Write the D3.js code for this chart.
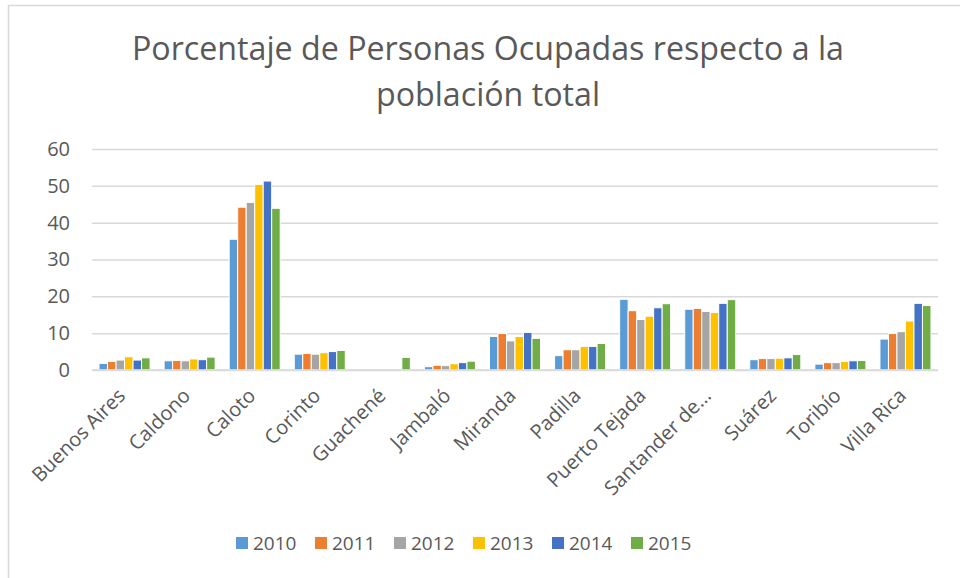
<!DOCTYPE html>
<html>
<head>
<meta charset="utf-8">
<script src="https://cdn.jsdelivr.net/npm/d3@7"></script>
<style>
  body { margin: 0; background: #fff; }
  svg { display: block; font-family: "Open Sans", sans-serif; }
</style>
</head>
<body>
<div id="chart"></div>
<script>
const municipios = ["Buenos Aires", "Caldono", "Caloto", "Corinto", "Guachené", "Jambaló",
  "Miranda", "Padilla", "Puerto Tejada", "Santander de…", "Suárez", "Toribío", "Villa Rica"];
const years = ["2010", "2011", "2012", "2013", "2014", "2015"];
const colors = ["#5B9BD5", "#ED7D31", "#A5A5A5", "#FFC000", "#4472C4", "#70AD47"];

const v2010 = [1.8, 2.5, 35.5, 4.3, 0, 0.9, 9.1, 3.9, 19.2, 16.5, 2.8, 1.6, 8.4];
const v2011 = [2.3, 2.6, 44.2, 4.5, 0, 1.3, 9.9, 5.5, 16.1, 16.7, 3.1, 2.0, 9.9];
const v2012 = [2.7, 2.5, 45.5, 4.3, 0, 1.2, 7.9, 5.5, 13.7, 15.9, 3.1, 2.0, 10.4];
const v2013 = [3.6, 3.0, 50.4, 4.7, 0, 1.7, 9.1, 6.4, 14.6, 15.6, 3.2, 2.3, 13.3];
const v2014 = [2.7, 2.8, 51.3, 5.0, 0, 2.0, 10.2, 6.4, 16.9, 18.1, 3.3, 2.5, 18.1];
const v2015 = [3.3, 3.5, 43.9, 5.3, 3.4, 2.4, 8.6, 7.2, 18.0, 19.1, 4.2, 2.6, 17.5];
const series = [v2010, v2011, v2012, v2013, v2014, v2015];

const yTicks = [0, 10, 20, 30, 40, 50, 60];

const width = 960, height = 578;
const margin = { top: 149, right: 22, bottom: 208, left: 92 };
const textColor = "#595959";
const gridColor = "#d9d9d9";

const svg = d3.select("#chart").append("svg")
  .attr("width", width).attr("height", height);

// chart frame
svg.append("rect")
  .attr("x", 8.5).attr("y", 5.5)
  .attr("width", width + 20).attr("height", height + 20)
  .attr("fill", "#fff").attr("stroke", "#d9d9d9").attr("stroke-width", 1.5);

const x0 = d3.scaleBand()
  .domain(municipios)
  .range([margin.left, width - margin.right])
  .paddingInner(0.216).paddingOuter(0.108);

const x1 = d3.scaleBand()
  .domain(years)
  .range([0, x0.bandwidth()]);

const y = d3.scaleLinear()
  .domain([0, 60])
  .range([height - margin.bottom, margin.top]);

const color = d3.scaleOrdinal().domain(years).range(colors);

// title
const title = svg.append("text")
  .attr("text-anchor", "middle")
  .attr("fill", textColor)
  .style("font-size", "32.2px");
title.append("tspan").attr("x", 488).attr("y", 60)
  .text("Porcentaje de Personas Ocupadas respecto a la");
title.append("tspan").attr("x", 488).attr("y", 106)
  .text("población total");

// gridlines + y labels
svg.append("g")
  .attr("transform", `translate(${margin.left},0)`)
  .call(d3.axisLeft(y).tickValues(yTicks).tickSize(-(width - margin.left - margin.right)).tickPadding(22))
  .call(g => g.select(".domain").remove())
  .call(g => g.selectAll(".tick line").attr("stroke", gridColor).attr("stroke-width", 1.5))
  .call(g => g.selectAll(".tick text")
    .attr("fill", textColor)
    .style("font-size", "20px")
    .style("font-family", "'Open Sans', sans-serif"));

// bars
const groups = svg.append("g").attr("class", "bars")
  .selectAll("g")
  .data(series)
  .join("g")
  .attr("fill", (d, i) => colors[i]);

groups.selectAll("rect")
  .data((d, i) => d.map((v, j) => ({ v, year: years[i], muni: municipios[j] })))
  .join("rect")
  .filter(d => d.v > 0)
  .attr("x", d => x0(d.muni) + x1(d.year))
  .attr("y", d => y(d.v))
  .attr("width", x1.bandwidth())
  .attr("height", d => y(0) - y(d.v))
  .attr("stroke", "#fff")
  .attr("stroke-width", 1);

// baseline
svg.append("line")
  .attr("x1", margin.left).attr("x2", width - margin.right)
  .attr("y1", y(0)).attr("y2", y(0))
  .attr("stroke", gridColor).attr("stroke-width", 1.5);

// category labels
svg.append("g")
  .selectAll("text")
  .data(municipios)
  .join("text")
  .attr("text-anchor", "end")
  .attr("fill", textColor)
  .style("font-size", "20px")
  .attr("transform", d => `translate(${x0(d) + x0.bandwidth() / 2 + 2},${y(0) + 27}) rotate(-45)`)
  .text(d => d);

// legend
const legend = svg.append("g")
  .selectAll("g")
  .data(years)
  .join("g")
  .attr("transform", (d, i) => `translate(${236 + i * 79},537)`);

legend.append("rect")
  .attr("width", 12).attr("height", 12)
  .attr("fill", d => color(d));

legend.append("text")
  .attr("x", 17).attr("y", 13)
  .attr("fill", textColor)
  .style("font-size", "19px")
  .text(d => d);
</script>
</body>
</html>
